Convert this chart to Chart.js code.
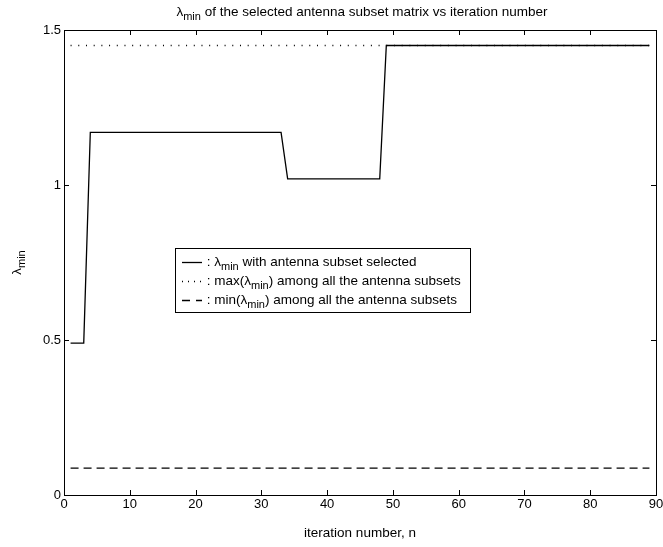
<!DOCTYPE html>
<html>
<head>
<meta charset="utf-8">
<script src="https://cdn.jsdelivr.net/npm/chart.js@4/dist/chart.umd.min.js"></script>
<style>
  html, body { margin: 0; padding: 0; background: #fff; }
  #wrap { width: 663px; height: 547px; }
</style>
</head>
<body>
<div id="wrap"><canvas id="c"></canvas></div>
<script>
// step curve breakpoints of the selected subset lambda_min
const iterX = [1, 3, 4, 33, 34, 48, 49, 89];
const lambdaSel = [0.49, 0.49, 1.17, 1.17, 1.02, 1.02, 1.45, 1.45];
// reference levels
const refX = [1, 89];
const lambdaMax = [1.45, 1.45];
const lambdaMinAll = [0.087, 0.087];
const xTicks = [0, 10, 20, 30, 40, 50, 60, 70, 80, 90];
const yTicks = [0, 0.5, 1, 1.5];

const FONT = "'Liberation Sans', Arial, sans-serif";

function pts(xs, ys) { return xs.map((x, i) => ({ x: x, y: ys[i] })); }

// draw text with "min" subscripts; parts = [[text, isSub], ...]
function richWidth(ctx, parts, size) {
  let w = 0;
  parts.forEach(p => {
    ctx.font = (p[1] ? Math.round(size * 0.8) : size) + "px " + FONT;
    w += ctx.measureText(p[0]).width;
  });
  return w;
}
function drawRich(ctx, parts, x, y, size, align) {
  let w = richWidth(ctx, parts, size);
  let cx = align === "center" ? x - w / 2 : x;
  ctx.textBaseline = "alphabetic";
  ctx.textAlign = "left";
  parts.forEach(p => {
    ctx.font = (p[1] ? Math.round(size * 0.8) : size) + "px " + FONT;
    ctx.fillText(p[0], cx, p[1] ? y + 4 : y);
    cx += ctx.measureText(p[0]).width;
  });
}

const decor = {
  id: "decor",
  afterDraw(chart) {
    const ctx = chart.ctx;
    const a = chart.chartArea;
    const xs = chart.scales.x, ys = chart.scales.y;
    ctx.save();
    ctx.strokeStyle = "#000";
    ctx.fillStyle = "#000";
    ctx.lineWidth = 1;
    // box
    ctx.strokeRect(Math.round(a.left) + 0.5, Math.round(a.top) + 0.5,
      Math.round(a.right - a.left), Math.round(a.bottom - a.top));
    // inward ticks
    ctx.beginPath();
    xTicks.forEach(v => {
      const px = Math.round(xs.getPixelForValue(v)) + 0.5;
      ctx.moveTo(px, a.bottom); ctx.lineTo(px, a.bottom - 5);
      ctx.moveTo(px, a.top); ctx.lineTo(px, a.top + 5);
    });
    yTicks.forEach(v => {
      const py = Math.round(ys.getPixelForValue(v)) + 0.5;
      ctx.moveTo(a.left, py); ctx.lineTo(a.left + 5, py);
      ctx.moveTo(a.right, py); ctx.lineTo(a.right - 5, py);
    });
    ctx.stroke();
    // tick labels
    ctx.font = "13px " + FONT;
    ctx.textAlign = "center"; ctx.textBaseline = "top";
    xTicks.forEach(v => ctx.fillText(String(v), xs.getPixelForValue(v), a.bottom + 3));
    ctx.textAlign = "right"; ctx.textBaseline = "middle";
    yTicks.forEach(v => ctx.fillText(String(v), a.left - 3, ys.getPixelForValue(v)));
    // x title
    ctx.font = "13.5px " + FONT;
    ctx.textAlign = "center"; ctx.textBaseline = "alphabetic";
    ctx.fillText("iteration number, n", (a.left + a.right) / 2, 537);
    // title
    drawRich(ctx, [["\u03bb", false], ["min", true], [" of the selected antenna subset matrix vs iteration number", false]],
      (a.left + a.right) / 2 + 2, 16, 13.5, "center");
    // y title rotated
    ctx.save();
    ctx.translate(21, (a.top + a.bottom) / 2);
    ctx.rotate(-Math.PI / 2);
    drawRich(ctx, [["\u03bb", false], ["min", true]], 0, 0, 13.5, "center");
    ctx.restore();
    // legend box
    const lx = 175, ly = 248, lw = 295, lh = 64;
    ctx.fillStyle = "#fff";
    ctx.fillRect(lx, ly, lw, lh);
    ctx.strokeRect(lx + 0.5, ly + 0.5, lw, lh);
    ctx.fillStyle = "#000";
    const rows = [
      { dash: [], parts: [[" : \u03bb", false], ["min", true], [" with antenna subset selected", false]] },
      { dash: [1, 5], parts: [[" : max(\u03bb", false], ["min", true], [") among all the antenna subsets", false]] },
      { dash: [8, 6], parts: [[" : min(\u03bb", false], ["min", true], [") among all the antenna subsets", false]] }
    ];
    rows.forEach((r, i) => {
      const yy = ly + 14 + i * 19;
      ctx.setLineDash(r.dash);
      ctx.lineWidth = 1.3;
      ctx.beginPath();
      ctx.moveTo(182, yy + 0.5); ctx.lineTo(202, yy + 0.5);
      ctx.stroke();
      ctx.setLineDash([]);
      drawRich(ctx, r.parts, 203, yy + 4, 13.5, "left");
    });
    ctx.restore();
  }
};

new Chart(document.getElementById("c"), {
  type: "line",
  data: {
    datasets: [
      { data: pts(iterX, lambdaSel), borderColor: "#000", borderWidth: 1.3, pointRadius: 0, tension: 0 },
      { data: pts(refX, lambdaMax), borderColor: "#000", borderWidth: 1.3, borderDash: [1, 6.7], pointRadius: 0 },
      { data: pts(refX, lambdaMinAll), borderColor: "#000", borderWidth: 1.3, borderDash: [8, 5], pointRadius: 0 }
    ]
  },
  options: {
    responsive: true,
    maintainAspectRatio: false,
    animation: false,
    events: [],
    layout: { padding: { left: 0, right: 7, top: 30, bottom: 0 } },
    plugins: { legend: { display: false }, tooltip: { enabled: false }, title: { display: false } },
    scales: {
      x: {
        type: "linear", min: 0, max: 90,
        grid: { display: false }, border: { display: false },
        ticks: { display: false },
        afterFit(s) { s.height = 52; }
      },
      y: {
        type: "linear", min: 0, max: 1.5,
        grid: { display: false }, border: { display: false },
        ticks: { display: false },
        afterFit(s) { s.width = 64; }
      }
    }
  },
  plugins: [decor]
});
</script>
</body>
</html>
